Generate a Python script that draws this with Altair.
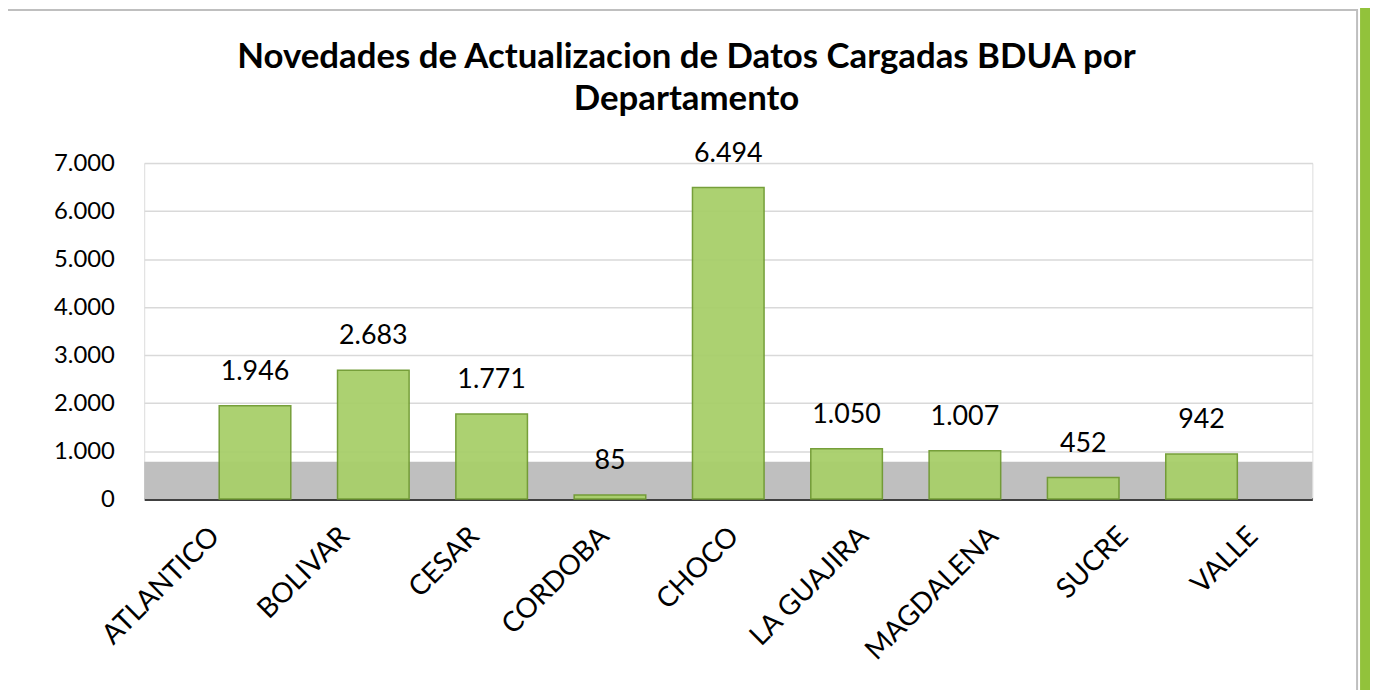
import altair as alt
import pandas as pd

departamentos = ["ATLANTICO", "BOLIVAR", "CESAR", "CORDOBA", "CHOCO",
                 "LA GUAJIRA", "MAGDALENA", "SUCRE", "VALLE"]
novedades = [1946, 2683, 1771, 85, 6494, 1050, 1007, 452, 942]
y_ticks = [0, 1000, 2000, 3000, 4000, 5000, 6000, 7000]

df = pd.DataFrame({"dep": departamentos, "val": novedades})

FONT = "Lato"
W, H = 1175, 338

y_enc = alt.Y("val:Q", scale=alt.Scale(domain=[0, 7000], nice=False),
              axis=alt.Axis(title=None, values=y_ticks, ticks=False,
                            domain=False, labelFontSize=24, labelFont=FONT,
                            labelColor="#000000", labelPadding=30,
                            labelExpr="replace(format(datum.value, ','), ',', '.')",
                            grid=True, gridColor="#d9d9d9", gridWidth=1.5))

x_bars = alt.X("dep:N", sort=departamentos,
               scale=alt.Scale(paddingInner=0.395, paddingOuter=0.634),
               axis=alt.Axis(title=None, orient="bottom", labels=False,
                             ticks=False, domain=True, domainColor="#404040",
                             domainWidth=3, grid=False))

base = alt.Chart(df)

floor = alt.Chart(pd.DataFrame({"a": [0]})).mark_rect(
    color="#bfbfbf"
).encode(x=alt.value(0), x2=alt.value(W),
         y=alt.datum(0, type="quantitative"), y2=alt.datum(780))

bars = base.mark_bar(color="#a8cf6a", stroke="#6f9a30", strokeWidth=1.5,
                     opacity=0.95).encode(x=x_bars, y=y_enc)

labels = base.transform_calculate(
    lab="replace(format(datum.val, ','), ',', '.')"
).mark_text(dy=-20, fontSize=27, font=FONT, color="#000000",
            baseline="bottom").encode(x=alt.X("dep:N", sort=departamentos),
                                      y="val:Q", text="lab:N")

axis_layer = base.mark_point(opacity=0).encode(
    x=alt.X("dep:N", sort=departamentos,
            scale=alt.Scale(paddingInner=0, paddingOuter=0),
            axis=alt.Axis(title=None, orient="bottom", labelAngle=-45,
                          labelAlign="right", labelBaseline="top",
                          labelFontSize=28, labelFont=FONT,
                          labelColor="#000000", labelPadding=23,
                          labelOffset=-4, ticks=False, domain=False,
                          grid=False)),
    y="val:Q")

frame = alt.Chart(pd.DataFrame({"a": [0]})).mark_rect(
    fill=None, stroke="#bfbfbf", strokeWidth=2, clip=False
).encode(x=alt.value(-138), x2=alt.value(1220),
         y=alt.value(-154), y2=alt.value(540))

green_bar = alt.Chart(pd.DataFrame({"a": [0]})).mark_rect(
    color="#92c23b", clip=False
).encode(x=alt.value(1223), x2=alt.value(1236),
         y=alt.value(-160), y2=alt.value(540))

chart = alt.layer(
    frame, green_bar, alt.layer(floor, bars, labels), axis_layer
).resolve_scale(x="independent").properties(
    width=W, height=H,
    padding={"left": 137, "top": 154, "right": 58, "bottom": 190},
    autosize=alt.AutoSizeParams(type="none"),
    title=alt.Title(["Novedades de Actualizacion de Datos Cargadas BDUA por",
                     "Departamento"],
                    font=FONT, fontSize=35, fontWeight="bold", color="#000000",
                    anchor="middle", dx=-42, dy=114, offset=0, lineHeight=43)
).configure_view(stroke=None).configure(background="white")

chart.save("out.html", embed_options={"renderer": "svg", "actions": False})
